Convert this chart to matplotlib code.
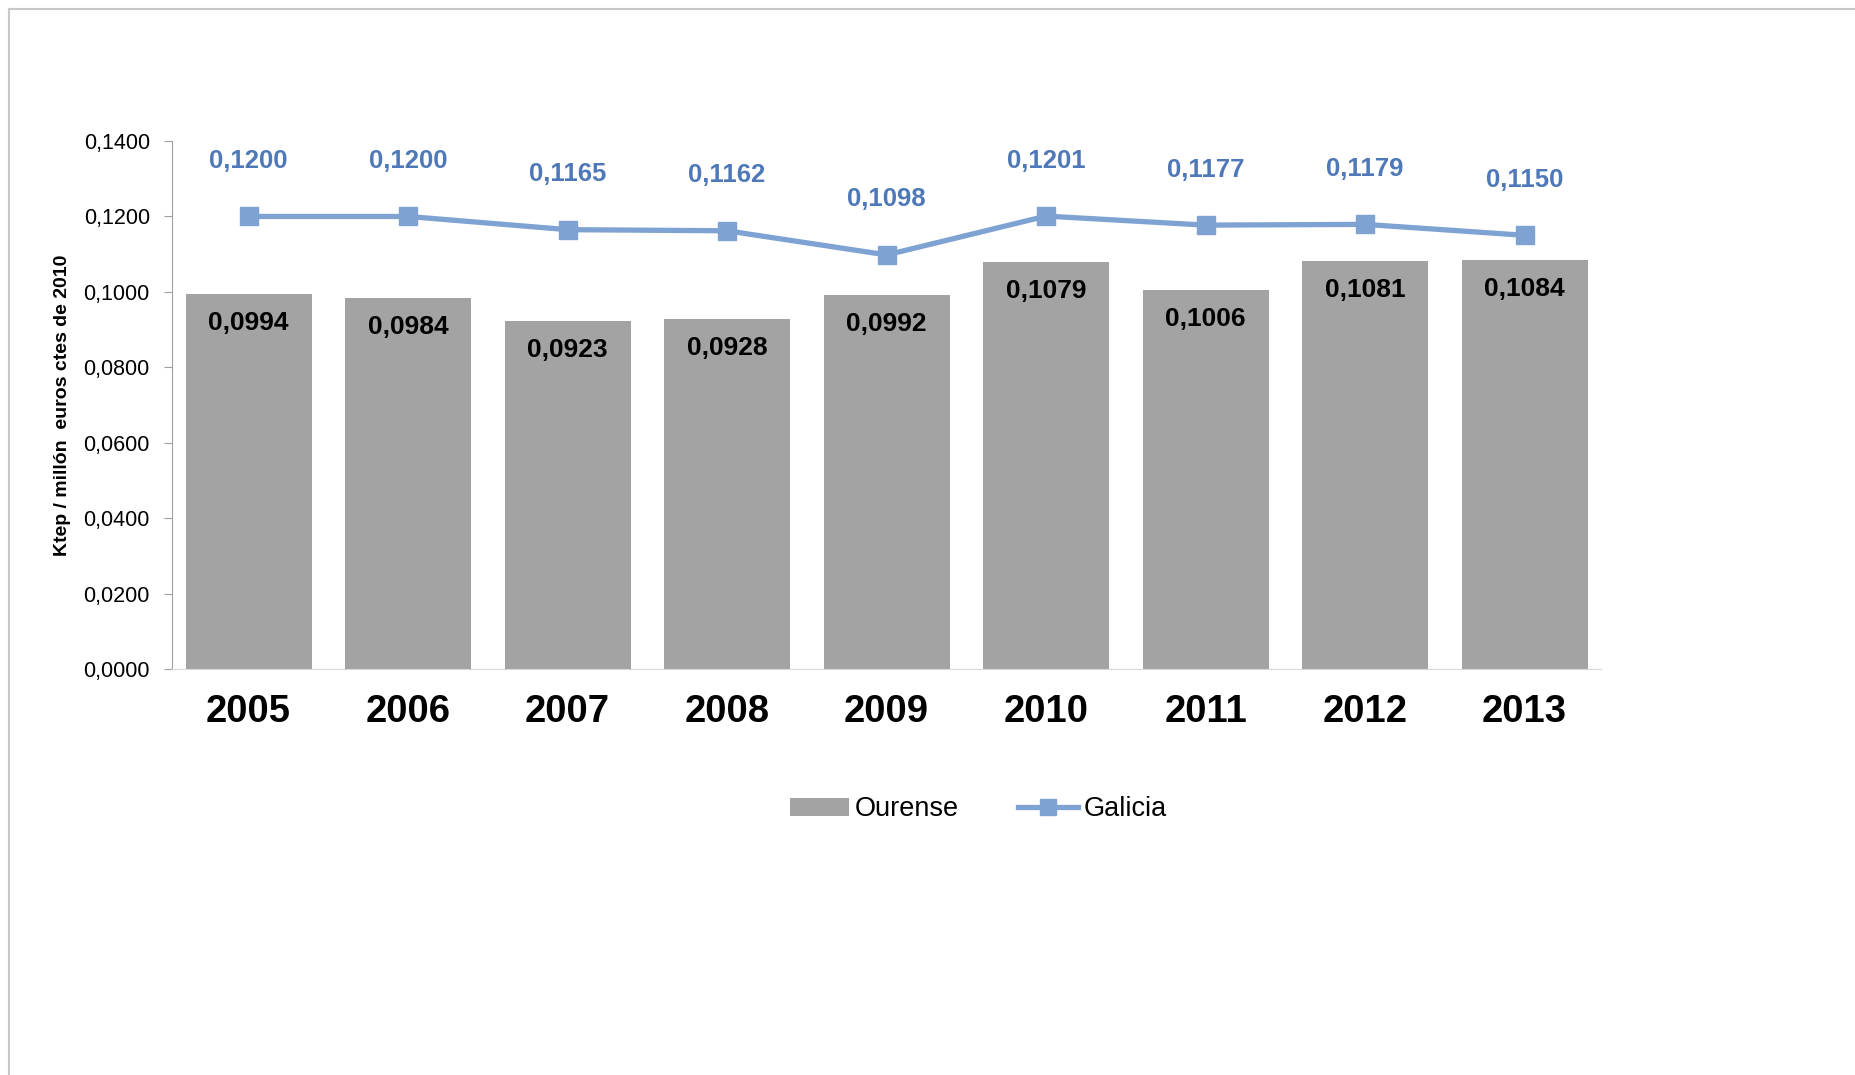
import matplotlib.pyplot as plt
from matplotlib.lines import Line2D
from matplotlib.patches import Patch
import numpy as np

years = ['2005', '2006', '2007', '2008', '2009', '2010', '2011', '2012', '2013']
ourense = [0.0994, 0.0984, 0.0923, 0.0928, 0.0992, 0.1079, 0.1006, 0.1081, 0.1084]
galicia = [0.1200, 0.1200, 0.1165, 0.1162, 0.1098, 0.1201, 0.1177, 0.1179, 0.1150]
yticks = [0.0, 0.02, 0.04, 0.06, 0.08, 0.10, 0.12, 0.14]

bar_color = '#A3A3A3'
line_color = '#7EA2D2'
label_blue = '#4F78B8'


def fmt(v):
    return f"{v:.4f}".replace('.', ',')


plt.rcParams['font.family'] = ['Liberation Sans', 'DejaVu Sans']

fig = plt.figure(figsize=(18.56, 10.75), dpi=100)
ax = fig.add_axes([0.0927, 0.3777, 0.770, 0.4911])

x = np.arange(len(years))
ax.bar(x, ourense, width=0.79, color=bar_color, zorder=2)
ax.plot(x, galicia, color=line_color, linewidth=3.8, marker='s', markersize=13,
        markerfacecolor=line_color, markeredgecolor=line_color, zorder=3)

# data labels: black inside the bars, blue above the line
for xi, v in zip(x, ourense):
    ax.annotate(fmt(v), (xi, v), textcoords='offset points', xytext=(0, -21),
                ha='center', va='center', fontsize=19, fontweight='bold', color='black')
for xi, v in zip(x, galicia):
    ax.annotate(fmt(v), (xi, v), textcoords='offset points', xytext=(0, 40),
                ha='center', va='center', fontsize=18.5, fontweight='bold', color=label_blue)

ax.set_xlim(-0.48, 8.48)
ax.set_ylim(0, 0.14)
ax.set_yticks(yticks)
ax.set_yticklabels([fmt(t) for t in yticks], fontsize=15.5)
ax.set_xticks(x)
ax.set_xticklabels(years, fontsize=27.5, fontweight='bold')
ax.tick_params(axis='x', length=0, pad=18)
ax.tick_params(axis='y', length=6, color='#A0A0A0', pad=10)

for s in ['top', 'right']:
    ax.spines[s].set_visible(False)
ax.spines['left'].set_color('#A0A0A0')
ax.spines['bottom'].set_color('#D8D8D8')

ax.set_ylabel('Ktep / millón  euros ctes de 2010', fontsize=14, fontweight='bold', labelpad=9)

handles = [Patch(facecolor=bar_color, edgecolor='none', label='Ourense'),
           Line2D([0], [0], color=line_color, linewidth=3.8, marker='s', markersize=11,
                  label='Galicia')]
fig.legend(handles=handles, loc='center', bbox_to_anchor=(0.527, 0.247), ncol=2,
           frameon=False, fontsize=19.5, handlelength=2.2, handletextpad=0.2, columnspacing=2.2)

# outer frame lines
fig.add_artist(Line2D([0.0048, 1.0], [0.9916, 0.9916], transform=fig.transFigure,
                      color='#C8C8C8', linewidth=1.5))
fig.add_artist(Line2D([0.0048, 0.0048], [0.0, 0.9916], transform=fig.transFigure,
                      color='#C8C8C8', linewidth=1.5))

fig.savefig('out.png', dpi=100)
